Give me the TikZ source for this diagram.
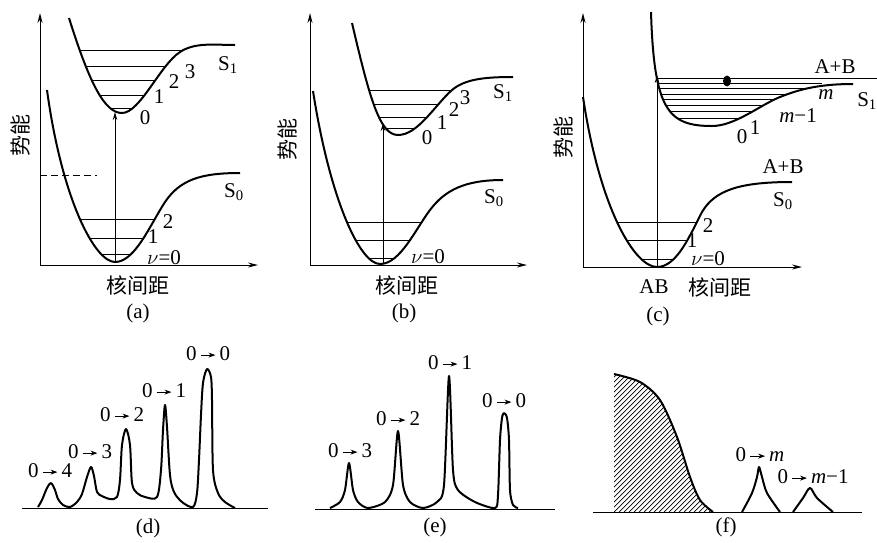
\documentclass[tikz,border=0pt]{standalone}
\usepackage{fontspec}
\setmainfont{Liberation Serif}
\newfontfamily\cjk{Noto Sans CJK SC}
\usetikzlibrary{arrows.meta}
\newcommand\trto[1]{0\,\tikz[baseline=-0.6ex]\draw[line width=1pt,-{Stealth[length=7pt,width=5pt]}] (0pt,0pt) -- (15pt,0pt);\,#1}

\begin{document}
\begin{tikzpicture}[x=1pt,y=-1pt,
curve/.style={line width=2pt,line join=round},
lvl/.style={line width=0.8pt},
axis/.style={line width=1pt,{Stealth[length=10pt,width=5pt]}-{Stealth[length=10pt,width=5pt]}},
trans/.style={line width=0.9pt,-{Stealth[length=8pt,width=4.5pt]}},
lbl/.style={font=\fontsize{21}{23}\selectfont,inner sep=0pt},
zh/.style={font=\cjk\fontsize{21}{23}\selectfont,inner sep=0pt}
]
\useasboundingbox (0,0) rectangle (877,542);

% potential curves
\def\aSone{(69,18) .. controls (90,85) and (105,113) .. (122,113)
  .. controls (140,113) and (160,65) .. (180,52) .. controls (195,42) and (215,45) .. (235,45)}
\def\aSzero{(47,90) .. controls (62,200) and (95,262) .. (115,262)
  .. controls (135,262) and (150,225) .. (165,202) .. controls (180,180) and (200,173) .. (240,173)}
\def\bSone{(352,23) .. controls (370,100) and (380,135) .. (398,135)
  .. controls (418,135) and (435,105) .. (452,90) .. controls (465,79) and (485,77) .. (513,77)}
\def\bSzero{(313,91) .. controls (330,200) and (360,264) .. (380,264)
  .. controls (400,264) and (415,230) .. (430,210) .. controls (445,190) and (465,180) .. (503,180)}
\def\cSone{(651,12) .. controls (654,110) and (668,126) .. (712,126)
  .. controls (735,126) and (760,105) .. (780,97) .. controls (800,89) and (820,84) .. (853,84)}
\def\cSzero{(583,97) .. controls (600,210) and (635,267) .. (657,267)
  .. controls (677,267) and (690,235) .. (702,212) .. controls (715,190) and (740,182) .. (792,182)}

% (a)
\draw[axis] (40,13) -- (40,265) -- (258,265);
\begin{scope}
\clip \aSone;
\foreach \y in {50,66,80,95,108} \draw[lvl] (40,\y) -- (260,\y);
\end{scope}
\begin{scope}
\clip \aSzero;
\foreach \y in {219,238,254} \draw[lvl] (40,\y) -- (260,\y);
\end{scope}
\draw[curve] \aSone;
\draw[curve] \aSzero;
\draw[lvl,dash pattern=on 7pt off 4pt] (40,175) -- (97,175);
\coordinate (a-lo) at (115,262);
\coordinate (a-hi) at (115,112);
\draw[trans] (a-lo) -- (a-hi);
\node[lbl] (a-s1) at (228,65) {S\textsubscript{1}};
\node[lbl] (a-e0) at (145,118) {0};
\node[lbl] (a-e1) at (159,97) {1};
\node[lbl] (a-e2) at (174,82) {2};
\node[lbl] (a-e3) at (190,72) {3};
\node[lbl] (a-s0) at (234,192) {S\textsubscript{0}};
\node[lbl] (a-g2) at (168,222) {2};
\node[lbl] (a-g1) at (153,237) {1};
\node[lbl] (a-nu) at (164,258) {$\nu$=0};
\node[zh] (a-x) at (138,285) {核间距};
\node[zh,rotate=90] (a-y) at (21,135) {势能};
\node[lbl] (a-cap) at (138,313) {(a)};

% (b)
\draw[axis] (310,13) -- (310,265) -- (527,265);
\begin{scope}
\clip \bSone;
\foreach \y in {90,104,117,128} \draw[lvl] (310,\y) -- (530,\y);
\end{scope}
\begin{scope}
\clip \bSzero;
\foreach \y in {222,240,258} \draw[lvl] (310,\y) -- (530,\y);
\end{scope}
\draw[curve] \bSone;
\draw[curve] \bSzero;
\coordinate (b-lo) at (383,264);
\coordinate (b-hi) at (383,123);
\draw[trans] (b-lo) -- (b-hi);
\node[lbl] (b-s1) at (503,93) {S\textsubscript{1}};
\node[lbl] (b-e0) at (427,138) {0};
\node[lbl] (b-e1) at (442,123) {1};
\node[lbl] (b-e2) at (454,110) {2};
\node[lbl] (b-e3) at (465,98) {3};
\node[lbl] (b-s0) at (494,198) {S\textsubscript{0}};
\node[lbl] (b-nu) at (428,257) {$\nu$=0};
\node[zh] (b-x) at (407,285) {核间距};
\node[zh,rotate=90] (b-y) at (288,139) {势能};
\node[lbl] (b-cap) at (404,313) {(b)};

% (c)
\draw[axis] (583,13) -- (583,267) -- (802,267);
\begin{scope}
\clip \cSone;
\foreach \y in {88,94,99,105,111,118} \draw[lvl] (583,\y) -- (877,\y);
\end{scope}
\draw[lvl] (657,83) -- (822,83);
\draw[lvl] (657,78) -- (877,78);
\fill (727,81) ellipse [x radius=4pt,y radius=5.5pt];
\begin{scope}
\clip \cSzero;
\foreach \y in {222,240,259} \draw[lvl] (583,\y) -- (800,\y);
\end{scope}
\draw[curve] \cSone;
\draw[curve] \cSzero;
\coordinate (c-lo) at (657,267);
\coordinate (c-hi) at (657,75);
\draw[trans] (c-lo) -- (c-hi);
\node[lbl] (c-ab1) at (835,67) {A+B};
\node[lbl] (c-m) at (826,95) {\textit{m}};
\node[lbl,anchor=east] (c-s1) at (877,101) {S\textsubscript{1}};
\node[lbl] (c-m1) at (798,116) {\textit{m}−1};
\node[lbl] (c-e0) at (742,137) {0};
\node[lbl] (c-e1) at (755,128) {1};
\node[lbl] (c-ab0) at (783,167) {A+B};
\node[lbl] (c-s0) at (783,201) {S\textsubscript{0}};
\node[lbl] (c-g2) at (708,226) {2};
\node[lbl] (c-g1) at (692,241) {1};
\node[lbl] (c-nu) at (708,259) {$\nu$=0};
\node[lbl] (c-ab) at (654,287) {AB};
\node[zh] (c-x) at (720,287) {核间距};
\node[zh,rotate=90] (c-y) at (563,137) {势能};
\node[lbl] (c-cap) at (658,316) {(c)};

% (d)
\draw[axis,-] (22,508) -- (268,508);
\draw[curve] plot[smooth,tension=0.5] coordinates {(38,507) (42,500) (47,488) (51,483) (55,490) (58,499) (63,505) (70,507) (77,502) (82,494) (87,477) (91,467) (94,476) (97,492) (102,496) (110,499) (117,497) (120,480) (122,445) (126,429) (130,445) (132,483) (137,493) (145,497) (157,497) (161,470) (163,430) (165,405) (167,427) (170,475) (174,492) (182,502) (193,507) (197,493) (199,460) (201,415) (203,383) (207,369) (211,377) (212,400) (213,470) (218,493) (225,502) (235,508)};
\node[lbl] (d-t4) at (50,471) {\trto{4}};
\node[lbl] (d-t3) at (90,452) {\trto{3}};
\node[lbl] (d-t2) at (122,415) {\trto{2}};
\node[lbl] (d-t1) at (164,391) {\trto{1}};
\node[lbl] (d-t0) at (208,354) {\trto{0}};
\node[lbl] (d-cap) at (148,528) {(d)};

% (e)
\draw[axis,-] (315,509) -- (555,509);
\draw[curve] plot[smooth,tension=0.45] coordinates {(330,508) (340,502) (345,490) (349,463) (353,490) (358,502) (368,508) (385,502) (393,485) (398,431) (403,485) (410,502) (423,508) (437,502) (444,485) (449,376) (453,470) (458,490) (475,502) (495,508) (498,495) (500,440) (502,418) (504,413) (507,418) (509,440) (510,490) (513,505) (518,508)};
\node[lbl] (e-t3) at (350,451) {\trto{3}};
\node[lbl] (e-t2) at (398,419) {\trto{2}};
\node[lbl] (e-t1) at (450,363) {\trto{1}};
\node[lbl] (e-t0) at (504,401) {\trto{0}};
\node[lbl] (e-cap) at (435,527) {(e)};

% (f)
\draw[axis,-] (593,512) -- (862,512);
\begin{scope}
\clip (614,512) -- plot[smooth] coordinates {(614,374) (640,382) (660,400) (677,437) (690,477) (700,500) (713,512)} -- cycle;
\foreach \i in {0,...,48}
  \draw[line width=0.7pt] (474+5*\i,512) -- ++(140,-140);
\end{scope}
\draw[curve] plot[smooth] coordinates {(614,374) (640,382) (660,400) (677,437) (690,477) (700,500) (713,512)};
\draw[curve] plot[smooth,tension=0.5] coordinates {(742,512) (752,493) (757,477) (759,467) (762,477) (767,493) (780,512)};
\draw[curve] plot[smooth,tension=0.5] coordinates {(793,512) (803,498) (810,488) (817,498) (833,512)};
\node[lbl] (f-tm) at (760,455) {\trto{\textit{m}}};
\node[lbl] (f-tm1) at (813,477) {\trto{\textit{m}−1}};
\node[lbl] (f-cap) at (726,527) {(f)};
\end{tikzpicture}
\end{document}
